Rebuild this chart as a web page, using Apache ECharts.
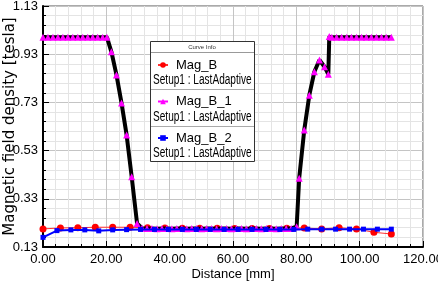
<!DOCTYPE html>
<html>
<head>
<meta charset="utf-8">
<script src="https://cdn.jsdelivr.net/npm/echarts@6/dist/echarts.min.js"></script>
<style>
  html, body { margin: 0; padding: 0; background: #fff; }
  #chart { width: 438px; height: 281px; }
</style>
</head>
<body>
<div id="chart"></div>
<script>
// x axis ticks / labels
const xTicks = ["0.00", "20.00", "40.00", "60.00", "80.00", "100.00", "120.00"];
const yTicks = ["0.13", "0.33", "0.53", "0.73", "0.93", "1.13"];

// Mag_B (red)
const magBDist = [0, 5.5, 11, 16.5, 22, 27.5, 33, 38.5, 44, 49.5, 55, 60.5, 66, 71.5, 77, 82.5, 88, 93.5, 99, 104.5, 110];
const magBVals = [0.205, 0.209, 0.210, 0.212, 0.212, 0.212, 0.210, 0.209, 0.208, 0.208, 0.208, 0.207, 0.207, 0.207, 0.208, 0.209, 0.205, 0.210, 0.205, 0.191, 0.184];

// Mag_B_1 (magenta markers, black line)
const magB1Dist = [
  0, 1.57, 3.14, 4.71, 6.28, 7.85, 9.42, 10.99, 12.56, 14.13, 15.7, 17.27, 18.84, 20.2,
  21.6, 23.2, 24.8, 26.4, 28.0, 29.7,
  31.27, 32.84, 34.41, 35.98, 37.55, 39.12, 40.69, 42.26, 43.83, 45.4, 46.97, 48.54, 50.11, 51.68,
  53.25, 54.82, 56.39, 57.96, 59.53, 61.1, 62.67, 64.24, 65.81, 67.38, 68.95, 70.52, 72.09, 73.66,
  75.23, 76.8, 78.37, 80.1,
  80.9, 82.5, 84.1, 85.7, 87.3, 88.9, 90.1, 90.4,
  91.2, 92.7, 94.3, 95.9, 97.4, 99.0, 100.6, 102.1, 103.7, 105.3, 106.9, 108.4, 110.0
];
const magB1Vals = [
  1.0, 1.0, 1.0, 1.0, 1.0, 1.0, 1.0, 1.0, 1.0, 1.0, 1.0, 1.0, 1.0, 1.0,
  0.94, 0.844, 0.727, 0.595, 0.422, 0.228,
  0.208, 0.207, 0.207, 0.206, 0.207, 0.207, 0.206, 0.207, 0.207, 0.206, 0.207, 0.207, 0.206, 0.207,
  0.207, 0.206, 0.207, 0.207, 0.206, 0.207, 0.207, 0.206, 0.207, 0.207, 0.206, 0.207, 0.207, 0.206,
  0.207, 0.207, 0.207, 0.214,
  0.415, 0.615, 0.76, 0.857, 0.906, 0.878, 0.847, 1.003,
  1.0, 1.0, 1.0, 1.0, 1.0, 1.0, 1.0, 1.0, 1.0, 1.0, 1.0, 1.0, 1.0
];

// Mag_B_2 (blue)
const magB2Dist = [0, 4.4, 8.8, 13.2, 17.6, 22, 26.4, 30.8, 35.2, 39.6, 44, 48.4, 52.8, 57.2, 61.6, 66, 70.4, 74.8, 79.2, 83.6, 88, 92.4, 96.8, 101.2, 105.6, 110];
const magB2Vals = [0.170, 0.198, 0.201, 0.201, 0.197, 0.201, 0.202, 0.203, 0.203, 0.203, 0.203, 0.203, 0.203, 0.203, 0.203, 0.203, 0.203, 0.203, 0.203, 0.204, 0.204, 0.204, 0.204, 0.204, 0.204, 0.204];

function pairs(xs, ys) {
  let out = [];
  for (let i = 0; i < xs.length; i++) {
    out.push([xs[i], ys[i]]);
  }
  return out;
}

const sans = "Liberation Sans";

// legend sub-line text, squeezed like the original
function setupText(y) {
  return {
    type: "text", z: 101, x: 153, y: y, scaleX: 0.72,
    style: { text: "Setup1 : LastAdaptive", fontFamily: sans, fontSize: 14, fill: "#000", verticalAlign: "middle" }
  };
}

let option = {
  animation: false,
  grid: {
    left: 43, right: 15, top: 6, bottom: 34,
    outerBoundsMode: "none",
    containLabel: false,
    show: true, borderColor: "#555", borderWidth: 1
  },
  xAxis: {
    type: "value",
    min: 0, max: 120, interval: 20,
    name: "Distance [mm]",
    nameLocation: "middle",
    nameGap: 21,
    nameMoveOverlap: false,
    nameTextStyle: { fontFamily: sans, fontSize: 13, color: "#000" },
    axisLine: { show: true, lineStyle: { color: "#000", width: 2 } },
    axisTick: { show: true, inside: true, length: 6, lineStyle: { color: "#000" } },
    minorTick: { show: true, splitNumber: 5, length: 3, lineStyle: { color: "#000" } },
    axisLabel: {
      fontFamily: sans, fontSize: 13, color: "#000", margin: 6,
      formatter: function (v) { return xTicks[Math.round(v / 20)]; }
    },
    splitLine: { show: true, lineStyle: { color: "#c4c4c4", width: 1 } },
    minorSplitLine: { show: true, lineStyle: { color: "#e4e4e4", width: 1 } }
  },
  yAxis: {
    type: "value",
    min: 0.13, max: 1.13, interval: 0.2,
    name: "Magnetic field density [tesla]",
    nameLocation: "middle",
    nameGap: 25,
    nameMoveOverlap: false,
    nameTextStyle: { fontFamily: "DejaVu Sans", fontSize: 15, color: "#000" },
    axisLine: { show: true, lineStyle: { color: "#000", width: 2 } },
    axisTick: { show: true, inside: true, length: 6, lineStyle: { color: "#000" } },
    minorTick: { show: true, splitNumber: 5, length: 3, lineStyle: { color: "#000" } },
    axisLabel: {
      fontFamily: sans, fontSize: 13, color: "#000", margin: 5,
      formatter: function (v) { return yTicks[Math.round((v - 0.13) / 0.2)]; }
    },
    splitLine: { show: true, lineStyle: { color: "#c4c4c4", width: 1 } },
    minorSplitLine: { show: true, lineStyle: { color: "#e4e4e4", width: 1 } }
  },
  legend: {
    orient: "vertical",
    left: 152, top: 52,
    itemWidth: 10, itemHeight: 7,
    itemGap: 20.5,
    z: 100,
    textStyle: { fontFamily: sans, fontSize: 13, color: "#000", lineHeight: 16, padding: [0, 0, 0, 3] },
    data: [
      { name: "Mag_B" },
      { name: "Mag_B_1", itemStyle: { color: "#ff00ff" }, lineStyle: { color: "#ff00ff", width: 2 } },
      { name: "Mag_B_2" }
    ]
  },
  graphic: [
    { type: "rect", z: 50, shape: { x: 150.5, y: 41.5, width: 104, height: 120 },
      style: { fill: "#fff", stroke: "#333", lineWidth: 1 } },
    { type: "line", z: 51, shape: { x1: 151, y1: 52.5, x2: 254, y2: 52.5 }, style: { stroke: "#999", lineWidth: 1 } },
    { type: "line", z: 51, shape: { x1: 151, y1: 89.5, x2: 254, y2: 89.5 }, style: { stroke: "#aaa", lineWidth: 1 } },
    { type: "line", z: 51, shape: { x1: 151, y1: 126.5, x2: 254, y2: 126.5 }, style: { stroke: "#aaa", lineWidth: 1 } },
    { type: "text", z: 101, x: 202, y: 47,
      style: { text: "Curve Info", fontFamily: sans, fontSize: 6, fill: "#333", align: "center", verticalAlign: "middle" } },
    setupText(80),
    setupText(117),
    setupText(153)
  ],
  series: [
    {
      name: "Mag_B",
      type: "line",
      data: pairs(magBDist, magBVals),
      symbol: "circle",
      symbolSize: 7,
      itemStyle: { color: "#ff0000" },
      lineStyle: { color: "#ff3030", width: 1 },
      z: 2
    },
    {
      name: "Mag_B_1",
      type: "line",
      data: pairs(magB1Dist, magB1Vals),
      symbol: "triangle",
      symbolSize: 7,
      itemStyle: { color: "#ff00ff" },
      lineStyle: { color: "#000", width: 4 },
      z: 3
    },
    {
      name: "Mag_B_2",
      type: "line",
      data: pairs(magB2Dist, magB2Vals),
      symbol: "rect",
      symbolSize: 5,
      itemStyle: { color: "#0000ff" },
      lineStyle: { color: "#0000ff", width: 2 },
      z: 4
    }
  ]
};

var myChart = echarts.init(document.getElementById("chart"));
myChart.setOption(option);
</script>
</body>
</html>
